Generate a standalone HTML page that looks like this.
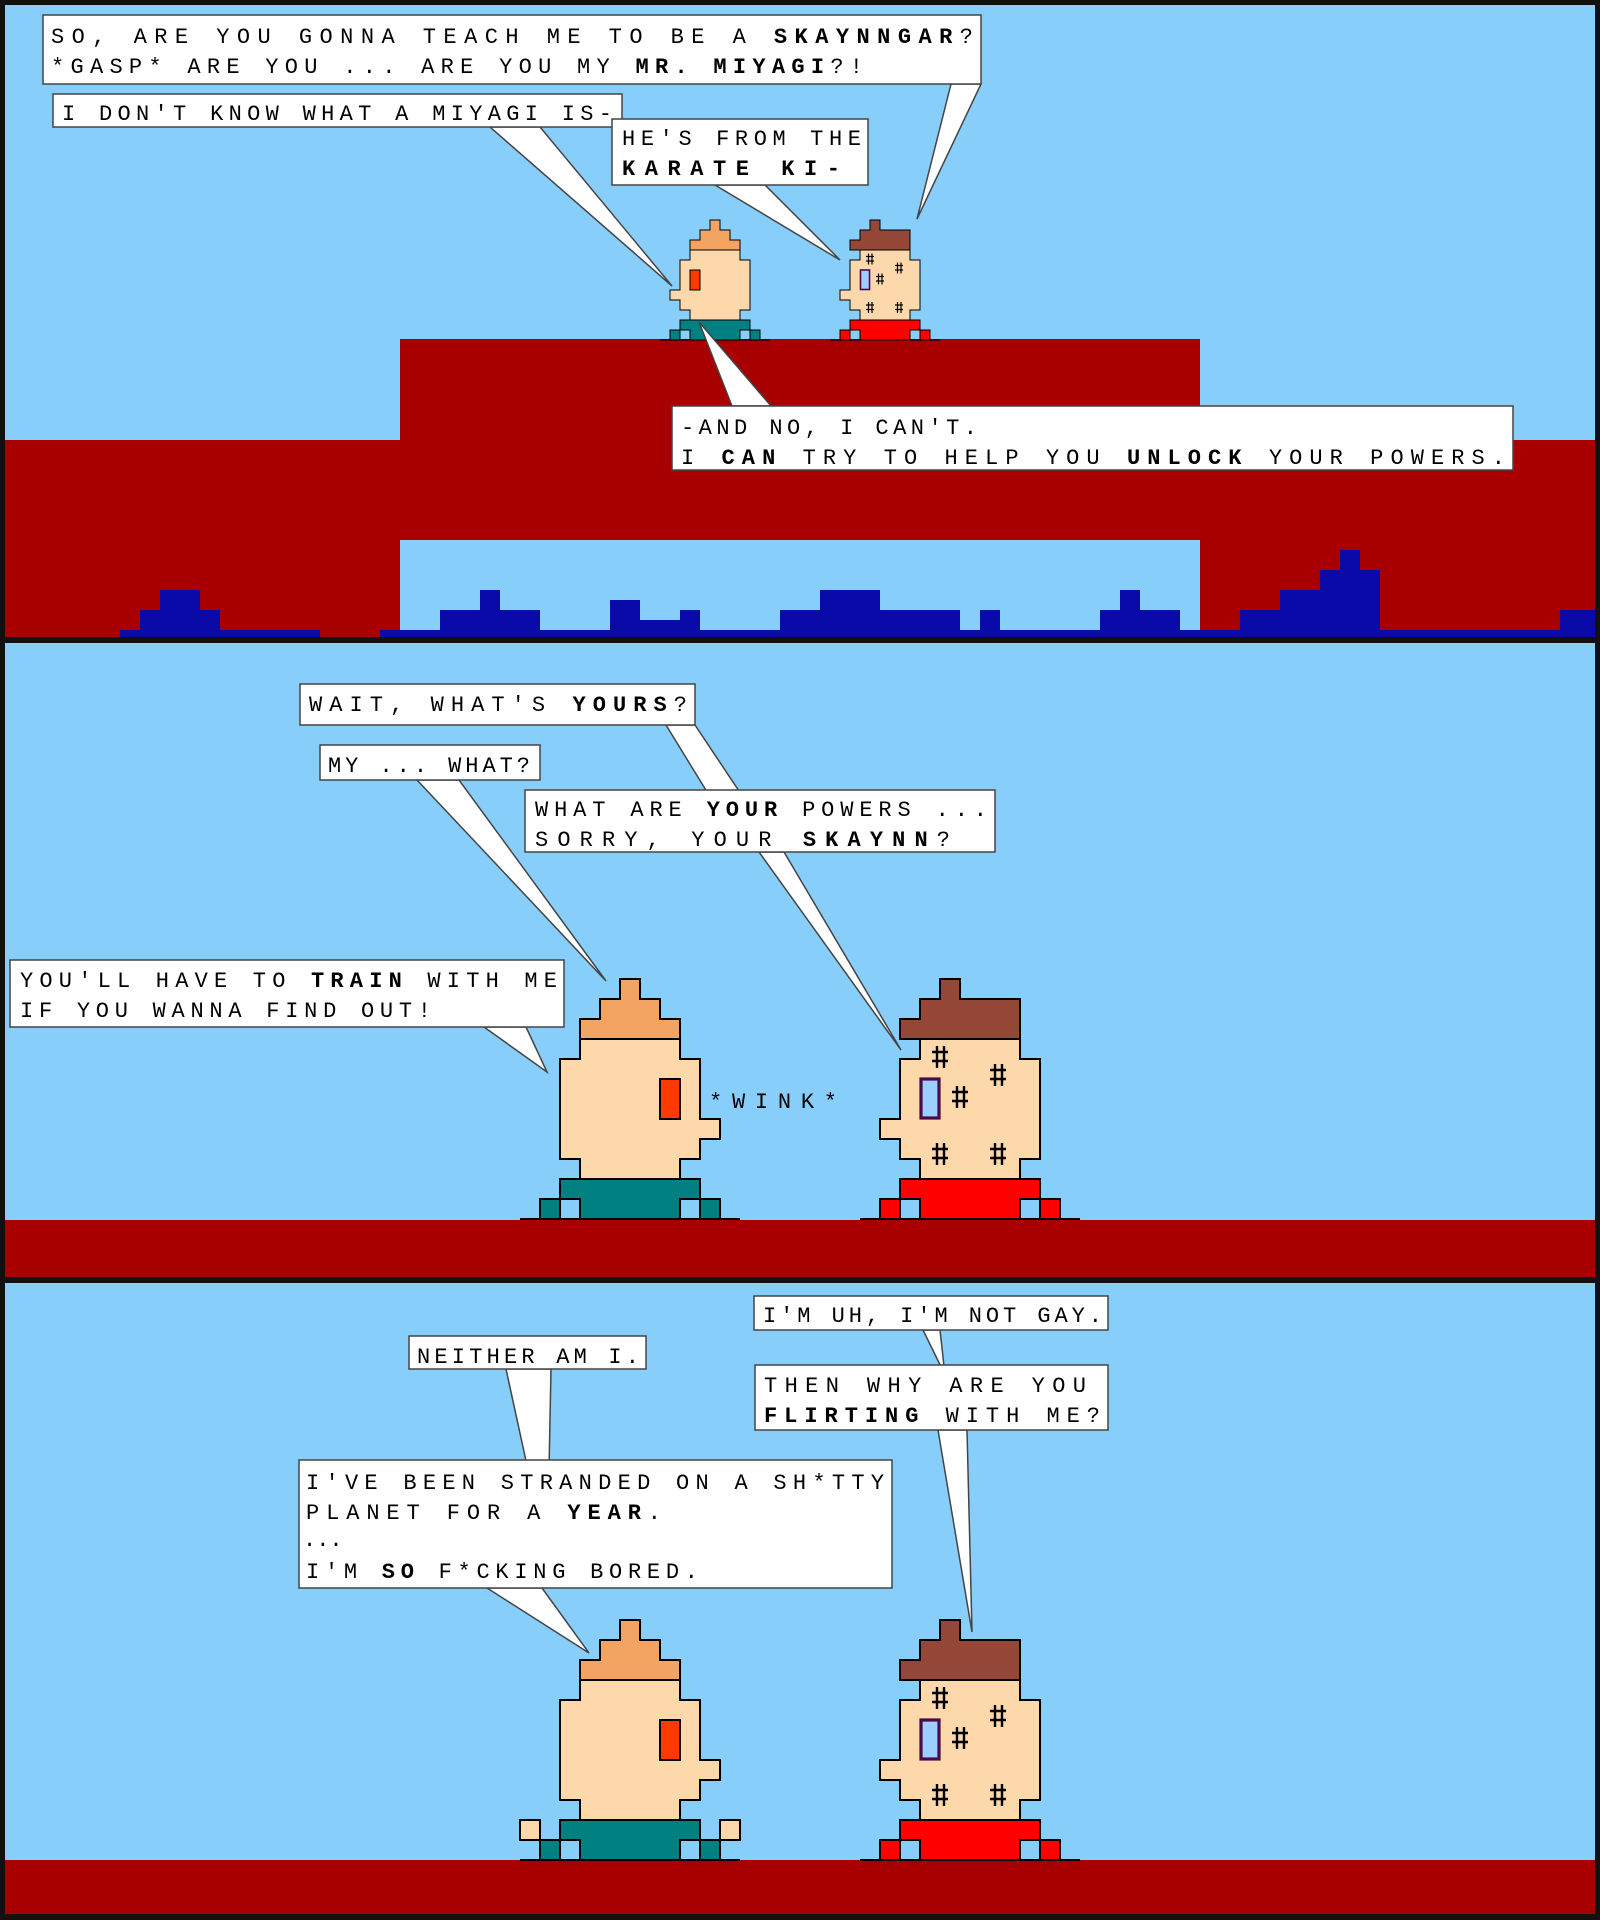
<!DOCTYPE html>
<html><head><meta charset="utf-8"><style>
html,body{margin:0;padding:0;background:#111;}
svg{display:block}
text{font-family:"Liberation Mono","DejaVu Sans Mono",monospace;font-size:22px;fill:#000;}
.b{font-weight:bold}
</style></head><body>
<svg width="1600" height="1920" viewBox="0 0 1600 1920" xmlns="http://www.w3.org/2000/svg">
<defs>
  <g id="L">
    <polygon points="3,0 4,0 4,1 5,1 5,2 6,2 6,3 1,3 1,2 2,2 2,1 3,1" fill="#F3A462" stroke="#000" stroke-width="0.1"/>
    <polygon points="1,3 6,3 6,4 7,4 7,7 8,7 8,8 7,8 7,9 6,9 6,10 1,10 1,9 0,9 0,4 1,4" fill="#FCD8AB" stroke="#000" stroke-width="0.1"/>
    <rect x="5" y="5" width="1" height="2" fill="#FF3A00" stroke="#000" stroke-width="0.1"/>
    <polygon points="0,10 7,10 7,11 6,11 6,12 1,12 1,11 0,11" fill="#008080" stroke="#000" stroke-width="0.1"/>
    <rect x="-1" y="11" width="1" height="1" fill="#008080" stroke="#000" stroke-width="0.1"/>
    <rect x="7" y="11" width="1" height="1" fill="#008080" stroke="#000" stroke-width="0.1"/>
    <line x1="-2" y1="12" x2="9" y2="12" stroke="#000" stroke-width="0.1"/>
  </g>
  <g id="H">
    <path d="M-0.4,-0.25 H0.4 M-0.4,0.2 H0.4 M-0.15,-0.55 V0.55 M0.2,-0.55 V0.55" stroke="#000" stroke-width="0.12" fill="none"/>
  </g>
  <g id="R">
    <polygon points="2,0 3,0 3,1 6,1 6,3 0,3 0,2 1,2 1,1 2,1" fill="#944637" stroke="#000" stroke-width="0.1"/>
    <polygon points="1,3 6,3 6,4 7,4 7,9 6,9 6,10 1,10 1,9 0,9 0,8 -1,8 -1,7 0,7 0,4 1,4" fill="#FCD8AB" stroke="#000" stroke-width="0.1"/>
    <rect x="1.05" y="5" width="0.9" height="1.95" fill="#9CCFFF" stroke="#4A0A4A" stroke-width="0.16"/>
    <use href="#H" x="2" y="3.9"/>
    <use href="#H" x="4.9" y="4.8"/>
    <use href="#H" x="3" y="5.9"/>
    <use href="#H" x="2" y="8.75"/>
    <use href="#H" x="4.9" y="8.75"/>
    <polygon points="0,10 7,10 7,11 6,11 6,12 1,12 1,11 0,11" fill="#FF0000" stroke="#000" stroke-width="0.1"/>
    <rect x="-1" y="11" width="1" height="1" fill="#FF0000" stroke="#000" stroke-width="0.1"/>
    <rect x="7" y="11" width="1" height="1" fill="#FF0000" stroke="#000" stroke-width="0.1"/>
    <line x1="-2" y1="12" x2="9" y2="12" stroke="#000" stroke-width="0.1"/>
  </g>
</defs>
<rect width="1600" height="1920" fill="#111"/>
<!-- PANEL 1 -->
<rect x="5" y="5" width="1590" height="632" fill="#87CEFA"/>
<rect x="400" y="339" width="800" height="102" fill="#A80000"/>
<rect x="5" y="440" width="1590" height="197" fill="#A80000"/>
<rect x="400" y="540" width="800" height="97" fill="#87CEFA"/>
<g fill="#0A0AA8">
  <rect x="120" y="630" width="200" height="7"/>
  <rect x="140" y="610" width="80" height="27"/>
  <rect x="160" y="590" width="40" height="47"/>
  <rect x="380" y="630" width="820" height="7"/>
  <rect x="440" y="610" width="100" height="27"/>
  <rect x="480" y="590" width="20" height="47"/>
  <rect x="610" y="600" width="30" height="37"/>
  <rect x="640" y="620" width="40" height="17"/>
  <rect x="680" y="610" width="20" height="27"/>
  <rect x="780" y="610" width="180" height="27"/>
  <rect x="820" y="590" width="60" height="47"/>
  <rect x="980" y="610" width="20" height="27"/>
  <rect x="1100" y="610" width="80" height="27"/>
  <rect x="1120" y="590" width="20" height="47"/>
  <rect x="1200" y="630" width="395" height="7"/>
  <rect x="1240" y="610" width="140" height="27"/>
  <rect x="1280" y="590" width="100" height="47"/>
  <rect x="1320" y="570" width="60" height="67"/>
  <rect x="1340" y="550" width="20" height="87"/>
  <rect x="1560" y="610" width="35" height="27"/>
</g>
<use href="#L" transform="translate(750,220) scale(-10,10)"/>
<use href="#R" transform="translate(850,220) scale(10)"/>

<g stroke="#444" stroke-width="1.5" fill="#fff">
  <polygon points="951,84 981,84 917,219"/>
  <rect x="43" y="15" width="938" height="69"/>
  <polygon points="490,127 540,127 672,286"/>
  <rect x="53" y="94" width="569" height="33"/>
  <polygon points="715,185 765,185 840,260"/>
  <rect x="612" y="119" width="256" height="66"/>
  <polygon points="732,406 771,406 699,322"/>
  <rect x="672" y="406" width="841" height="64"/>
</g>
<text x="51" y="43" textLength="922" lengthAdjust="spacing">SO, ARE YOU GONNA TEACH ME TO BE A <tspan class="b">SKAYNNGAR</tspan>?</text>
<text x="51" y="73" textLength="812" lengthAdjust="spacing">*GASP* ARE YOU ... ARE YOU MY <tspan class="b">MR. MIYAGI</tspan>?!</text>
<text x="62" y="120" textLength="550" lengthAdjust="spacing">I DON'T KNOW WHAT A MIYAGI IS-</text>
<text x="622" y="145" textLength="239" lengthAdjust="spacing">HE'S FROM THE</text>
<text x="622" y="175" textLength="218" lengthAdjust="spacing" class="b">KARATE KI-</text>
<text x="681" y="434" textLength="296" lengthAdjust="spacing">-AND NO, I CAN'T.</text>
<text x="681" y="464" textLength="824" lengthAdjust="spacing">I <tspan class="b">CAN</tspan> TRY TO HELP YOU <tspan class="b">UNLOCK</tspan> YOUR POWERS.</text>

<!-- PANEL 2 -->
<rect x="5" y="643" width="1590" height="634" fill="#87CEFA"/>
<rect x="5" y="1220" width="1590" height="57" fill="#A80000"/>
<use href="#L" transform="translate(560,979) scale(20)"/>
<use href="#R" transform="translate(900,979) scale(20)"/>
<text x="709" y="1108" textLength="128" lengthAdjust="spacing">*WINK*</text>
<g stroke="#444" stroke-width="1.5" fill="#fff">
  <polygon points="666,725 695,725 745,800 712,800"/>
  <rect x="300" y="684" width="395" height="41"/>
  <polygon points="417,780 459,780 606,981"/>
  <rect x="320" y="745" width="220" height="35"/>
  <polygon points="759,852 784,852 901,1050"/>
  <rect x="525" y="790" width="470" height="62"/>
  <polygon points="484,1027 526,1027 547,1072"/>
  <rect x="10" y="960" width="554" height="67"/>
</g>
<text x="309" y="711" textLength="378" lengthAdjust="spacing">WAIT, WHAT'S <tspan class="b">YOURS</tspan>?</text>
<text x="328" y="772" textLength="202" lengthAdjust="spacing">MY ... WHAT?</text>
<text x="535" y="816" textLength="452" lengthAdjust="spacing">WHAT ARE <tspan class="b">YOUR</tspan> POWERS ...</text>
<text x="535" y="846" textLength="415" lengthAdjust="spacing">SORRY, YOUR <tspan class="b">SKAYNN</tspan>?</text>
<text x="20" y="987" textLength="537" lengthAdjust="spacing">YOU'LL HAVE TO <tspan class="b">TRAIN</tspan> WITH ME</text>
<text x="20" y="1017" textLength="411" lengthAdjust="spacing">IF YOU WANNA FIND OUT!</text>

<!-- PANEL 3 -->
<rect x="5" y="1283" width="1590" height="631" fill="#87CEFA"/>
<rect x="5" y="1860" width="1590" height="54" fill="#A80000"/>
<use href="#L" transform="translate(560,1620) scale(20)"/>
<g transform="translate(560,1620) scale(20)" fill="#FCD8AB" stroke="#000" stroke-width="0.1">
  <rect x="-2" y="10" width="1" height="1"/>
  <rect x="8" y="10" width="1" height="1"/>
</g>
<use href="#R" transform="translate(900,1620) scale(20)"/>
<g stroke="#444" stroke-width="1.5" fill="#fff">
  <polygon points="923,1330 940,1330 945,1375"/>
  <rect x="754" y="1296" width="354" height="34"/>
  <polygon points="938,1430 967,1430 972,1632"/>
  <rect x="755" y="1365" width="353" height="65"/>
  <polygon points="506,1369 551,1369 549,1470 528,1470"/>
  <rect x="409" y="1336" width="237" height="33"/>
  <polygon points="487,1588 542,1588 589,1653"/>
  <rect x="299" y="1460" width="593" height="128"/>
</g>
<text x="763" y="1322" textLength="339" lengthAdjust="spacing">I'M UH, I'M NOT GAY.</text>
<text x="764" y="1392" textLength="322" lengthAdjust="spacing">THEN WHY ARE YOU</text>
<text x="764" y="1422" textLength="336" lengthAdjust="spacing"><tspan class="b">FLIRTING</tspan> WITH ME?</text>
<text x="417" y="1363" textLength="222" lengthAdjust="spacing">NEITHER AM I.</text>
<text x="306" y="1489" textLength="578" lengthAdjust="spacing">I'VE BEEN STRANDED ON A SH*TTY</text>
<text x="306" y="1519" textLength="355" lengthAdjust="spacing">PLANET FOR A <tspan class="b">YEAR</tspan>.</text>
<text x="303" y="1546" font-size="16">...</text>
<text x="306" y="1578" textLength="392" lengthAdjust="spacing">I'M <tspan class="b">SO</tspan> F*CKING BORED.</text>
</svg>
</body></html>
